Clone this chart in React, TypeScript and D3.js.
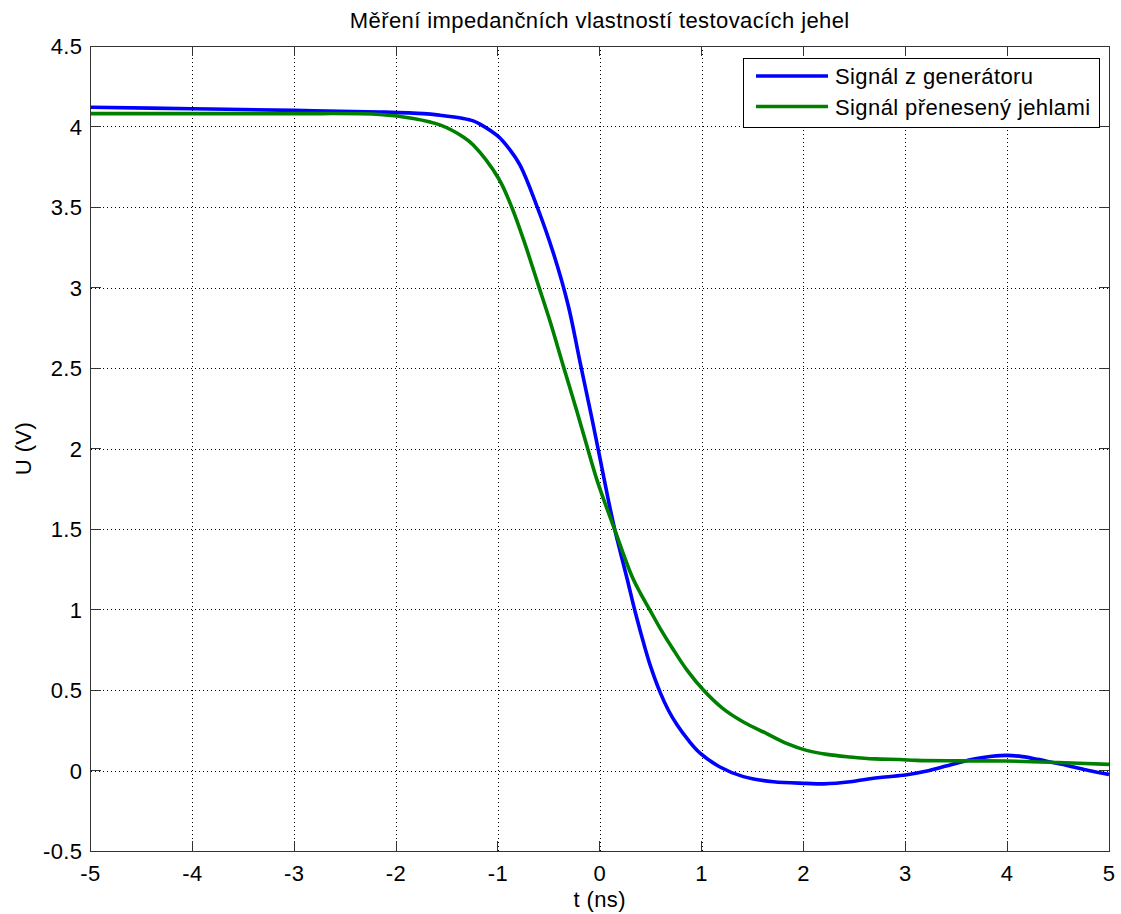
import React from "react";
import * as d3 from "d3";

const titleText = "Měření impedančních vlastností testovacích jehel";
const xLabel = "t (ns)";
const yLabel = "U (V)";
const xTicks = [-5, -4, -3, -2, -1, 0, 1, 2, 3, 4, 5];
const yTicks = [-0.5, 0, 0.5, 1, 1.5, 2, 2.5, 3, 3.5, 4, 4.5];
const seriesNames = ["Signál z generátoru", "Signál přenesený jehlami"];
const seriesColors = ["#0000ff", "#008000"];

const genT = [-5, -4, -3, -2.16, -1.73, -1.569, -1.34, -1.242, -1.176, -1.0, -0.9, -0.783, -0.62, -0.456, -0.31, -0.193, -0.078, 0.0, 0.085, 0.15, 0.265, 0.35, 0.445, 0.5, 0.59, 0.674, 0.757, 0.87, 0.985, 1.18, 1.41, 1.705, 2.03, 2.2, 2.46, 2.62, 2.8, 3.0, 3.2, 3.4, 3.54, 3.7, 3.85, 4.0, 4.15, 4.3, 4.42, 4.6, 4.8, 5.0];
const genU = [4.12, 4.11, 4.1, 4.09, 4.08, 4.07, 4.05, 4.035, 4.015, 3.94, 3.87, 3.76, 3.51, 3.215, 2.89, 2.535, 2.19, 1.947, 1.678, 1.49, 1.2, 0.98, 0.76, 0.645, 0.49, 0.374, 0.285, 0.188, 0.108, 0.022, -0.038, -0.07, -0.08, -0.083, -0.07, -0.054, -0.04, -0.028, -0.005, 0.028, 0.052, 0.074, 0.088, 0.094, 0.086, 0.069, 0.053, 0.03, 0.0, -0.024];

const needleT = [-5, -4, -3, -2.16, -1.83, -1.569, -1.34, -1.242, -0.996, -0.865, -0.75, -0.603, -0.488, -0.357, -0.226, -0.128, -0.03, 0.052, 0.15, 0.314, 0.4, 0.494, 0.6, 0.723, 0.855, 1.02, 1.21, 1.41, 1.64, 1.84, 2.03, 2.23, 2.46, 2.7, 2.95, 3.11, 3.5, 4.0, 4.5, 5.0];
const needleU = [4.08, 4.08, 4.08, 4.075, 4.05, 4.01, 3.935, 3.885, 3.68, 3.5, 3.3, 3.015, 2.79, 2.51, 2.235, 2.02, 1.81, 1.66, 1.49, 1.21, 1.1, 0.995, 0.875, 0.75, 0.625, 0.498, 0.384, 0.301, 0.229, 0.167, 0.125, 0.1, 0.084, 0.072, 0.068, 0.063, 0.06, 0.059, 0.05, 0.038];

const W = 1121;
const H = 914;
const L = 90.5, R = 1109, T = 46, B = 851;
const font = "'Liberation Sans', Arial, Helvetica, sans-serif";
const fs = 22;
const ls = 0.4;

export default function App() {
  const x = d3.scaleLinear().domain([-5, 5]).range([L, R]);
  const y = d3.scaleLinear().domain([-0.5, 4.5]).range([B, T]);
  const line = d3
    .line<[number, number]>()
    .x((d) => x(d[0]))
    .y((d) => y(d[1]))
    .curve(d3.curveCatmullRom.alpha(0.5));
  const gen: [number, number][] = genT.map((t, i) => [t, genU[i]]);
  const ndl: [number, number][] = needleT.map((t, i) => [t, needleU[i]]);
  const tl = 10;
  const axisColor = "#333";
  return (
    <svg width={W} height={H} style={{ position: "absolute", left: 0, top: 0, background: "#fff" }} fontFamily={font}>
      <rect x={0} y={0} width={W} height={H} fill="#fff" />
      <g stroke="#000" strokeWidth={1} strokeDasharray="1,3" shapeRendering="crispEdges">
        {xTicks.slice(1, -1).map((t) => (
          <line key={"gx" + t} x1={Math.round(x(t)) + 0.5} x2={Math.round(x(t)) + 0.5} y1={T} y2={B} />
        ))}
        {yTicks.slice(1, -1).map((t) => (
          <line key={"gy" + t} x1={L} x2={R} y1={Math.round(y(t)) + 0.5} y2={Math.round(y(t)) + 0.5} />
        ))}
      </g>
      <defs>
        <clipPath id="clip">
          <rect x={L} y={T} width={R - L} height={B - T} />
        </clipPath>
      </defs>
      <g clipPath="url(#clip)" fill="none" strokeWidth={3.6} strokeLinejoin="round">
        <path d={line(gen) || ""} stroke={seriesColors[0]} />
        <path d={line(ndl) || ""} stroke={seriesColors[1]} />
      </g>
      <g stroke={axisColor} strokeWidth={1} shapeRendering="crispEdges">
        <rect x={L} y={T} width={R - L} height={B - T} fill="none" />
        {xTicks.map((t) => (
          <g key={"tx" + t}>
            <line x1={x(t)} x2={x(t)} y1={B} y2={B - tl} />
            <line x1={x(t)} x2={x(t)} y1={T} y2={T + tl} />
          </g>
        ))}
        {yTicks.map((t) => (
          <g key={"ty" + t}>
            <line x1={L} x2={L + tl} y1={y(t)} y2={y(t)} />
            <line x1={R} x2={R - tl} y1={y(t)} y2={y(t)} />
          </g>
        ))}
      </g>
      <g fontSize={fs} fill="#000" letterSpacing={ls}>
        {xTicks.map((t) => (
          <text key={"lx" + t} x={x(t)} y={B + 30} textAnchor="middle">
            {String(t)}
          </text>
        ))}
        {yTicks.map((t) => (
          <text key={"ly" + t} x={L - 8} y={y(t) + 8} textAnchor="end">
            {String(t)}
          </text>
        ))}
      </g>
      <text x={(L + R) / 2} y={28} textAnchor="middle" fontSize={fs} letterSpacing={ls} fill="#000">
        {titleText}
      </text>
      <text x={(L + R) / 2} y={907} textAnchor="middle" fontSize={fs} letterSpacing={ls} fill="#000">
        {xLabel}
      </text>
      <text transform={`translate(31, ${(T + B) / 2}) rotate(-90)`} textAnchor="middle" fontSize={fs} letterSpacing={ls} fill="#000">
        {yLabel}
      </text>
      <g>
        <rect x={743.5} y={58.5} width={356} height={69} fill="#fff" stroke="#000" strokeWidth={1} />
        {seriesNames.map((n, i) => (
          <g key={n}>
            <line x1={756} x2={828} y1={76 + i * 30.5} y2={76 + i * 30.5} stroke={seriesColors[i]} strokeWidth={3.6} />
            <text x={835} y={84 + i * 30.5} fontSize={fs} letterSpacing={ls} fill="#000">
              {n}
            </text>
          </g>
        ))}
      </g>
    </svg>
  );
}
